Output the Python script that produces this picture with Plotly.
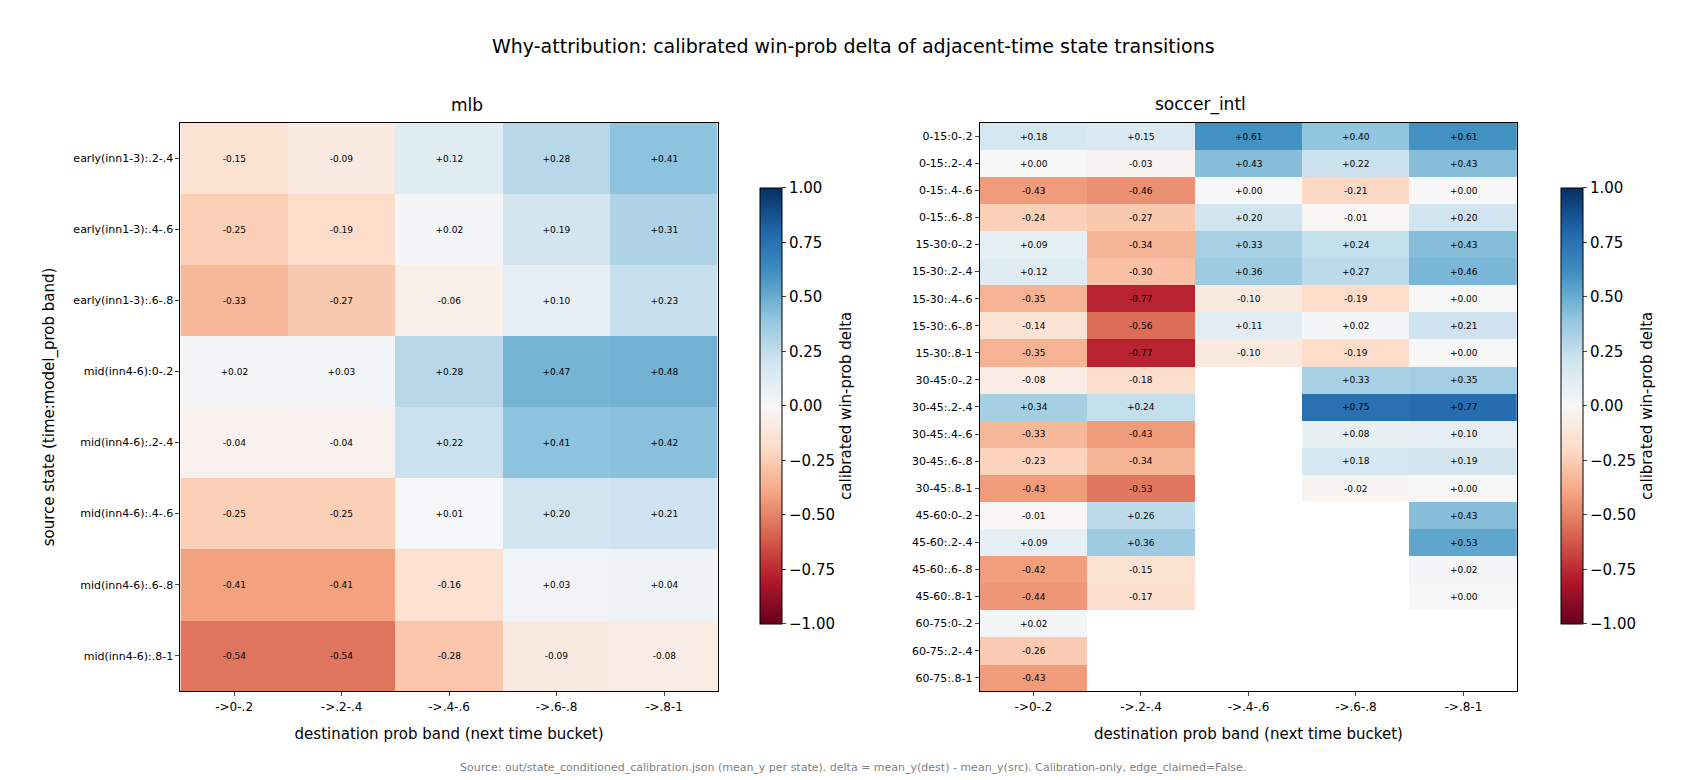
import plotly.graph_objects as go

dest_bands = ['->0-.2', '->.2-.4', '->.4-.6', '->.6-.8', '->.8-1']

mlb_states = ['early(inn1-3):.2-.4', 'early(inn1-3):.4-.6', 'early(inn1-3):.6-.8',
              'mid(inn4-6):0-.2', 'mid(inn4-6):.2-.4', 'mid(inn4-6):.4-.6',
              'mid(inn4-6):.6-.8', 'mid(inn4-6):.8-1']
mlb_delta = [
    [-0.15, -0.09, 0.12, 0.28, 0.41],
    [-0.25, -0.19, 0.02, 0.19, 0.31],
    [-0.33, -0.27, -0.06, 0.10, 0.23],
    [0.02, 0.03, 0.28, 0.47, 0.48],
    [-0.04, -0.04, 0.22, 0.41, 0.42],
    [-0.25, -0.25, 0.01, 0.20, 0.21],
    [-0.41, -0.41, -0.16, 0.03, 0.04],
    [-0.54, -0.54, -0.28, -0.09, -0.08],
]

soccer_states = ['0-15:0-.2', '0-15:.2-.4', '0-15:.4-.6', '0-15:.6-.8',
                 '15-30:0-.2', '15-30:.2-.4', '15-30:.4-.6', '15-30:.6-.8', '15-30:.8-1',
                 '30-45:0-.2', '30-45:.2-.4', '30-45:.4-.6', '30-45:.6-.8', '30-45:.8-1',
                 '45-60:0-.2', '45-60:.2-.4', '45-60:.6-.8', '45-60:.8-1',
                 '60-75:0-.2', '60-75:.2-.4', '60-75:.8-1']
N = None
soccer_delta = [
    [0.18, 0.15, 0.61, 0.40, 0.61],
    [0.00, -0.03, 0.43, 0.22, 0.43],
    [-0.43, -0.46, 0.00, -0.21, 0.00],
    [-0.24, -0.27, 0.20, -0.01, 0.20],
    [0.09, -0.34, 0.33, 0.24, 0.43],
    [0.12, -0.30, 0.36, 0.27, 0.46],
    [-0.35, -0.77, -0.10, -0.19, 0.00],
    [-0.14, -0.56, 0.11, 0.02, 0.21],
    [-0.35, -0.77, -0.10, -0.19, 0.00],
    [-0.08, -0.18, N, 0.33, 0.35],
    [0.34, 0.24, N, 0.75, 0.77],
    [-0.33, -0.43, N, 0.08, 0.10],
    [-0.23, -0.34, N, 0.18, 0.19],
    [-0.43, -0.53, N, -0.02, 0.00],
    [-0.01, 0.26, N, N, 0.43],
    [0.09, 0.36, N, N, 0.53],
    [-0.42, -0.15, N, N, 0.02],
    [-0.44, -0.17, N, N, 0.00],
    [0.02, N, N, N, N],
    [-0.26, N, N, N, N],
    [-0.43, N, N, N, N],
]

FONT = 'DejaVu Sans'


def labels(z):
    return [['' if v is None else '%+.2f' % v for v in row] for row in z]


def colorbar(x):
    return dict(x=x, xanchor='left', y=0.49, yanchor='middle', len=0.585,
                thickness=22, outlinecolor='black', outlinewidth=1,
                ticks='outside', ticklen=4, tickvals=[-1, -0.75, -0.5, -0.25, 0, 0.25, 0.5, 0.75, 1],
                ticktext=['\u22121.00', '\u22120.75', '\u22120.50', '\u22120.25', '0.00',
                          '0.25', '0.50', '0.75', '1.00'],
                tickfont=dict(size=15, color='black'),
                title=dict(text='calibrated win-prob delta', side='right',
                           font=dict(size=15, color='black')))


fig = go.Figure()
fig.add_trace(go.Heatmap(z=mlb_delta, x=dest_bands, y=mlb_states, xaxis='x', yaxis='y',
                         colorscale='RdBu', zmin=-1, zmax=1, text=labels(mlb_delta),
                         texttemplate='%{text}', textfont=dict(size=9, color='black'),
                         colorbar=colorbar(0.439), hoverongaps=False))
fig.add_trace(go.Heatmap(z=soccer_delta, x=dest_bands, y=soccer_states, xaxis='x2', yaxis='y2',
                         colorscale='RdBu', zmin=-1, zmax=1, text=labels(soccer_delta),
                         texttemplate='%{text}', textfont=dict(size=9, color='black'),
                         colorbar=colorbar(0.913), hoverongaps=False))

ax = dict(showline=True, mirror=True, linecolor='black', linewidth=1, ticks='outside',
          ticklen=4, tickfont=dict(size=12, color='black'), showgrid=False, zeroline=False)

fig.update_layout(
    width=1690, height=780,
    margin=dict(l=0, r=0, t=0, b=0),
    plot_bgcolor='white', paper_bgcolor='white',
    font=dict(family=FONT, color='black'),
    xaxis=dict(ax, domain=[0.102, 0.420],
               title=dict(text='destination prob band (next time bucket)', font=dict(size=15))),
    yaxis=dict(ax, domain=[0.124, 0.853], autorange='reversed', tickfont=dict(size=11, color='black'),
               title=dict(text='source state (time:model_prob band)', font=dict(size=15))),
    xaxis2=dict(ax, domain=[0.575, 0.893], anchor='y2',
                title=dict(text='destination prob band (next time bucket)', font=dict(size=15))),
    yaxis2=dict(ax, domain=[0.124, 0.853], anchor='x2', autorange='reversed',
                tickfont=dict(size=11, color='black')),
    annotations=[
        dict(text='Why-attribution: calibrated win-prob delta of adjacent-time state transitions',
             x=0.5, y=0.968, xref='paper', yref='paper', showarrow=False, font=dict(size=19)),
        dict(text='mlb', x=0.261, y=0.86, xref='paper', yref='paper', yanchor='bottom',
             showarrow=False, font=dict(size=17)),
        dict(text='soccer_intl', x=0.734, y=0.86, xref='paper', yref='paper', yanchor='bottom',
             showarrow=False, font=dict(size=17)),
        dict(text='Source: out/state_conditioned_calibration.json (mean_y per state). delta = mean_y(dest) - mean_y(src). Calibration-only, edge_claimed=False.',
             x=0.5, y=0.015, xref='paper', yref='paper', showarrow=False,
             font=dict(size=11, color='gray')),
    ],
)

fig.write_html('out.html')
